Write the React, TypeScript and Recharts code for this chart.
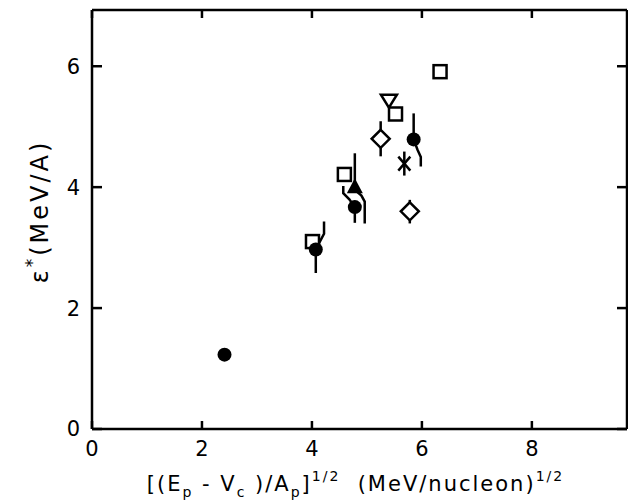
import { ScatterChart, Scatter, XAxis, YAxis, ErrorBar } from 'recharts'

const FONT = '"DejaVu Sans", sans-serif'

const X_MAX = 9.73
const Y_MAX = 6.93
const X_TICKS = [0, 2, 4, 6, 8]
const Y_TICKS = [0, 2, 4, 6]

// filled circles (err = [down, up])
const circles = [
  { x: 2.41, y: 1.23, err: [0, 0] },
  { x: 4.07, y: 2.97, err: [0.39, 0] },
  { x: 4.78, y: 3.67, err: [0.26, 0] },
  { x: 5.85, y: 4.79, err: [0, 0.43] },
]
const squares = [
  { x: 4.01, y: 3.1 },
  { x: 4.59, y: 4.21 },
  { x: 5.52, y: 5.21 },
  { x: 6.33, y: 5.91 },
]
const diamonds = [
  { x: 5.25, y: 4.8, err: [0.29, 0.29] },
  { x: 5.78, y: 3.6, err: [0.2, 0.19] },
]
const triangles = [{ x: 4.78, y: 4.0, err: [0, 0.56] }]
const invTriangles = [{ x: 5.4, y: 5.43 }]
const stars = [{ x: 5.68, y: 4.39 }]

// bent error bars (drawn offset to avoid overlap)
const tailA = [{ x: 4.07, y: 2.97 }, { x: 4.22, y: 3.23 }, { x: 4.22, y: 3.43 }]
const tailB = [{ x: 4.78, y: 3.67 }, { x: 4.68, y: 3.8 }, { x: 4.57, y: 3.9 }, { x: 4.57, y: 4.02 }]
const tailC = [{ x: 4.8, y: 3.94 }, { x: 4.9, y: 3.86 }, { x: 4.96, y: 3.76 }, { x: 4.96, y: 3.4 }]
const tailD = [{ x: 5.85, y: 4.79 }, { x: 5.92, y: 4.62 }, { x: 5.98, y: 4.5 }, { x: 5.98, y: 4.34 }]

const SW = 2.5

const Circle = ({ cx, cy }: any) => <circle cx={cx} cy={cy} r={7} fill="#000" />
const Square = ({ cx, cy }: any) => (
  <rect x={cx - 6.5} y={cy - 6.5} width={13} height={13} fill="#fff" stroke="#000" strokeWidth={SW} />
)
const Diamond = ({ cx, cy }: any) => (
  <polygon
    points={`${cx},${cy - 9} ${cx + 9},${cy} ${cx},${cy + 9} ${cx - 9},${cy}`}
    fill="#fff" stroke="#000" strokeWidth={SW}
  />
)
const Triangle = ({ cx, cy }: any) => (
  <polygon points={`${cx},${cy - 9} ${cx + 8},${cy + 6} ${cx - 8},${cy + 6}`} fill="#000" />
)
const InvTriangle = ({ cx, cy }: any) => (
  <polygon
    points={`${cx - 8},${cy - 6} ${cx + 8},${cy - 6} ${cx},${cy + 7}`}
    fill="#fff" stroke="#000" strokeWidth={SW}
  />
)
const Star = ({ cx, cy }: any) => (
  <g stroke="#000" strokeWidth={SW}>
    <line x1={cx} y1={cy - 12} x2={cx} y2={cy + 12} />
    <line x1={cx - 6} y1={cy - 7} x2={cx + 6} y2={cy + 7} />
    <line x1={cx + 6} y1={cy - 7} x2={cx - 6} y2={cy + 7} />
  </g>
)
const NoDot = () => <g />

const XTitle = ({ viewBox }: any) => {
  const cx = viewBox.x + viewBox.width / 2 - 4
  const y = viewBox.y + 62
  return (
    <text x={cx} y={y} textAnchor="middle" fontFamily={FONT} fontSize={21} letterSpacing={2}
      fill="#000" style={{ whiteSpace: 'pre' }}>
      <tspan>[(E</tspan>
      <tspan fontSize={14} dy={6}>p</tspan>
      <tspan dy={-6}> - V</tspan>
      <tspan fontSize={14} dy={6}>c</tspan>
      <tspan dy={-6}> )/A</tspan>
      <tspan fontSize={14} dy={6}>p</tspan>
      <tspan dy={-6}>]</tspan>
      <tspan fontSize={14} dy={-10}>1/2</tspan>
      <tspan dy={10}>  (MeV/nucleon)</tspan>
      <tspan fontSize={14} dy={-10}>1/2</tspan>
    </text>
  )
}

const YTitle = ({ viewBox }: any) => {
  const x = 40
  const y = viewBox.y + viewBox.height / 2 - 8
  return (
    <text x={x} y={y} transform={`rotate(-90, ${x}, ${y})`} textAnchor="middle"
      dominantBaseline="central" fontFamily={FONT} fontSize={24} letterSpacing={3} fill="#000">
      ε<tspan fontSize={17} dy={-8}>*</tspan>
      <tspan dy={8}>(MeV/A)</tspan>
    </text>
  )
}

const tickStyle = { fill: '#000', fontSize: 21, fontFamily: FONT }
const hiddenTick = { fill: 'none', fontSize: 1, fontFamily: FONT }
const tailLine = { stroke: '#000', strokeWidth: SW }

export default function App() {
  return (
    <div style={{ position: 'absolute', left: 0, top: 0, width: 628, height: 502, overflow: 'hidden', background: '#fff' }}>
      <ScatterChart width={640} height={502} margin={{ top: 0, right: 0, bottom: 0, left: 0 }}>
        <XAxis
          type="number" dataKey="x" domain={[0, X_MAX]} ticks={X_TICKS} allowDataOverflow
          height={73} tickSize={-8} tickMargin={20} stroke="#000" strokeWidth={SW}
          tick={tickStyle} label={<XTitle />}
        />
        <XAxis
          xAxisId="top" orientation="top" type="number" dataKey="x" domain={[0, X_MAX]}
          ticks={X_TICKS} interval={0} allowDataOverflow height={10} tickSize={-8}
          tick={hiddenTick} stroke="#000" strokeWidth={SW}
        />
        <YAxis
          type="number" dataKey="y" domain={[0, Y_MAX]} ticks={Y_TICKS} allowDataOverflow
          width={92} tickSize={-10} tickMargin={22} stroke="#000" strokeWidth={SW}
          tick={tickStyle} label={<YTitle />}
        />
        <YAxis
          yAxisId="right" orientation="right" type="number" dataKey="y" domain={[0, Y_MAX]}
          ticks={Y_TICKS} interval={0} allowDataOverflow width={13} tickSize={-10}
          tick={hiddenTick} stroke="#000" strokeWidth={SW}
        />

        <Scatter data={tailA} line={tailLine} lineType="joint" shape={NoDot} isAnimationActive={false} />
        <Scatter data={tailB} line={tailLine} lineType="joint" shape={NoDot} isAnimationActive={false} />
        <Scatter data={tailC} line={tailLine} lineType="joint" shape={NoDot} isAnimationActive={false} />
        <Scatter data={tailD} line={tailLine} lineType="joint" shape={NoDot} isAnimationActive={false} />

        <Scatter data={squares} shape={Square} isAnimationActive={false} />
        <Scatter data={diamonds} shape={Diamond} isAnimationActive={false}>
          <ErrorBar dataKey="err" direction="y" width={0} stroke="#000" strokeWidth={SW} />
        </Scatter>
        <Scatter data={triangles} shape={Triangle} isAnimationActive={false}>
          <ErrorBar dataKey="err" direction="y" width={0} stroke="#000" strokeWidth={SW} />
        </Scatter>
        <Scatter data={invTriangles} shape={InvTriangle} isAnimationActive={false} />
        {/* same domains as the main axes, bound here so the frame axes get their ticks */}
        <Scatter data={stars} xAxisId="top" yAxisId="right" shape={Star} isAnimationActive={false} />
        <Scatter data={circles} shape={Circle} isAnimationActive={false}>
          <ErrorBar dataKey="err" direction="y" width={0} stroke="#000" strokeWidth={SW} />
        </Scatter>
      </ScatterChart>
    </div>
  )
}
